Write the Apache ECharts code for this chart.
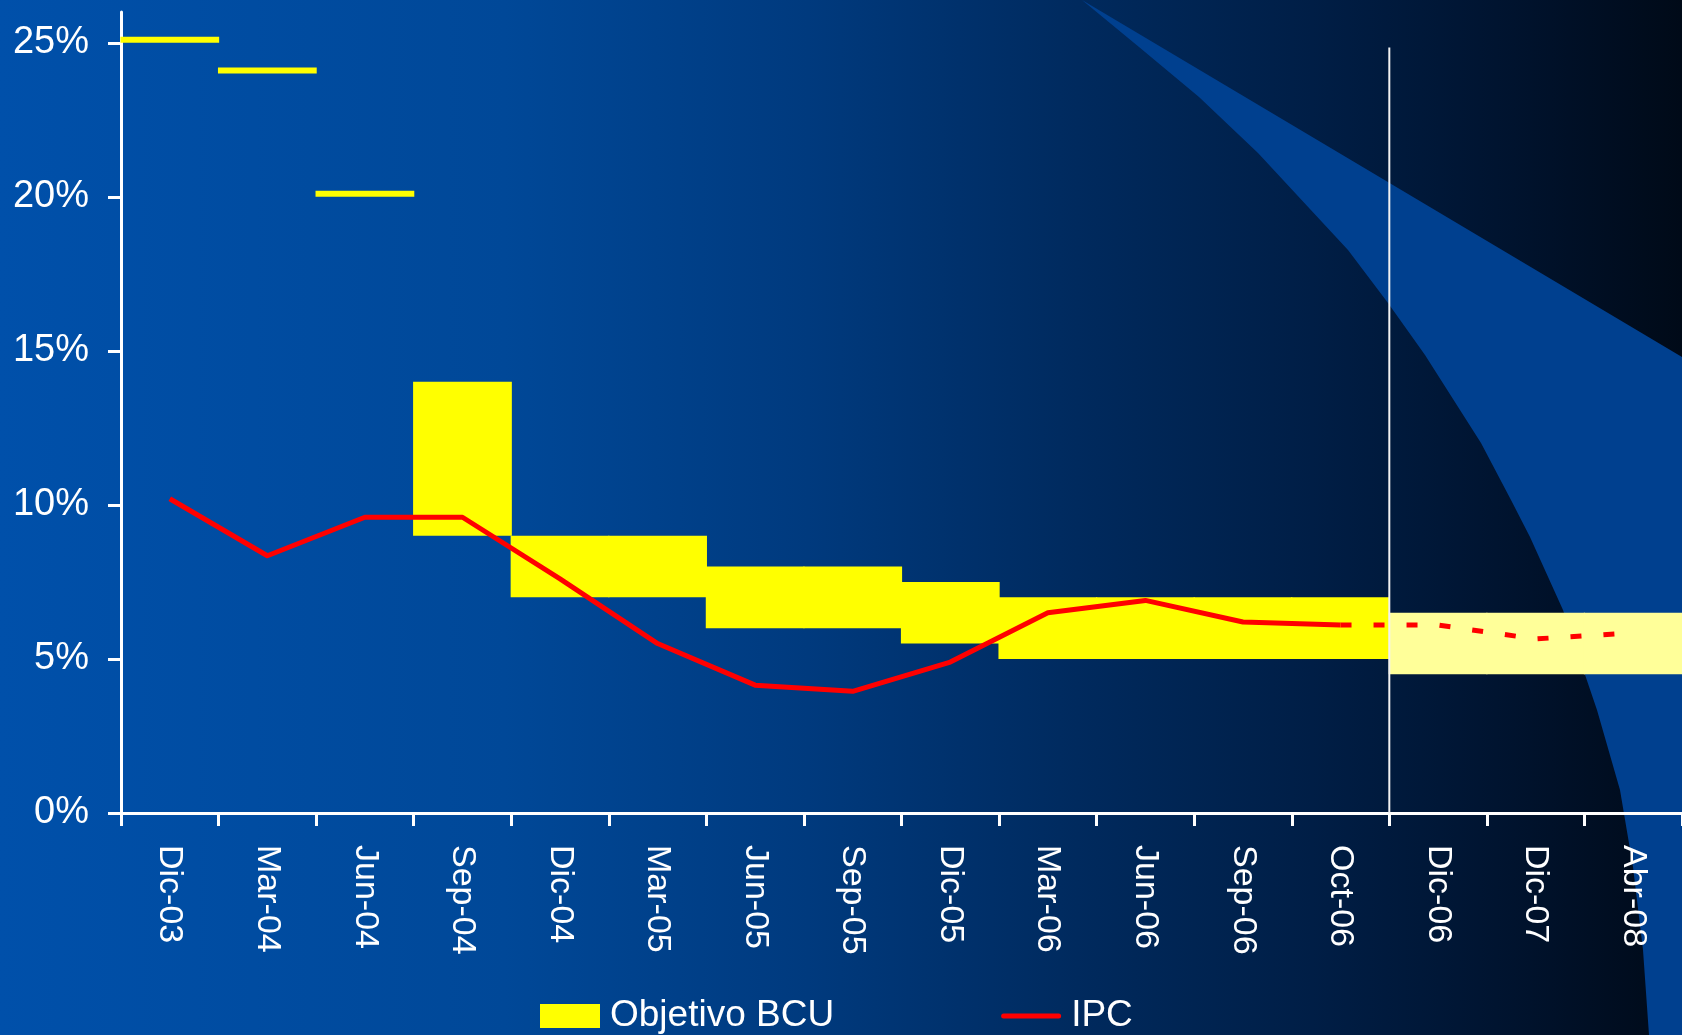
<!DOCTYPE html>
<html><head><meta charset="utf-8">
<script src="https://cdn.jsdelivr.net/npm/echarts@6/dist/echarts.min.js"></script>
<style>
html,body{margin:0;padding:0;width:1682px;height:1035px;overflow:hidden;
background:linear-gradient(to right,#0050AA 0%,#004898 30%,#003A7E 48%,#002A5E 64%,#001E46 78%,#00132E 90%,#000A18 100%);}
#c{width:1682px;height:1035px;}
</style>
</head><body><div id="c"></div>
<script>
// ---- data ----
const categories = ['Dic-03','Mar-04','Jun-04','Sep-04','Dic-04','Mar-05','Jun-05','Sep-05','Dic-05','Mar-06','Jun-06','Sep-06','Oct-06','Dic-06','Dic-07','Abr-08'];
const targetLow  = [25, 24, 20, 9, 7, 7, 6, 6, 5.5, 5, 5, 5, 5, 4.5, 4.5, 4.5];
const targetHigh = [25.2, 24.2, 20.2, 14, 9, 9, 8, 8, 7.5, 7, 7, 7, 7, 6.5, 6.5, 6.5];
const forecastStart = 13;
const ipcActual    = [10.2, 8.35, 9.6, 9.6, 7.6, 5.5, 4.15, 3.95, 4.9, 6.5, 6.9, 6.2, 6.1, null, null, null];
const ipcProjected = [null, null, null, null, null, null, null, null, null, null, null, null, 6.1, 6.1, 5.65, 5.85];
const yTicks = [0, 5, 10, 15, 20, 25];
const dividerX = [13, 13];
const dividerY = [0, 24.85];

// ---- chart ----
const FONT = '"Liberation Sans", Arial, sans-serif';
const chart = echarts.init(document.getElementById('c'), null, {renderer: 'canvas'});
const barColor = i => (i >= forecastStart ? '#FFFF99' : '#FFFF00');
const lineIcon = 'path://M0,0h0.05v0.05h-0.05z M2.5,9.5h55a2.5,2.5 0 0 1 0,5h-55a2.5,2.5 0 0 1 0,-5z M59.95,23.95h0.05v0.05h-0.05z';

chart.setOption({
  animation: false,
  backgroundColor: 'transparent',
  textStyle: {fontFamily: FONT},
  graphic: [{
    type: 'polygon', z: -10, silent: true,
    shape: {points: [[1082,0],[1682,357],[1682,1035],[1649,1035],[1643,950],[1633,867],[1620,790],[1597,710],[1563,610],[1530,537],[1511,500],[1481,443],[1425,355],[1388,303],[1348,250],[1258,153],[1199,97],[1139,47]]},
    style: {fill: '#00408F'}
  }],
  grid: {left: 121, right: 0, top: 12, bottom: 222, containLabel: false},
  legend: {
    left: 540, top: 996, padding: 0, itemGap: 167,
    itemWidth: 60, itemHeight: 24,
    textStyle: {color: '#ffffff', fontSize: 37, fontFamily: FONT, lineHeight: 40, padding: [0,0,0,5]},
    data: [{name: 'Objetivo BCU', icon: 'rect'}, {name: 'IPC', icon: lineIcon}]
  },
  xAxis: [{
    type: 'category', data: categories, boundaryGap: true,
    axisLine: {onZero: false, lineStyle: {color: '#ffffff', width: 3}},
    axisTick: {show: true, interval: 0, length: 13, lineStyle: {color: '#ffffff', width: 3}},
    axisLabel: {interval: 0, rotate: -90, margin: 32, color: '#ffffff', fontSize: 34, fontFamily: FONT},
    splitLine: {show: false}
  }, {
    type: 'value', min: 0, max: categories.length, show: false
  }],
  yAxis: {
    type: 'value', min: 0, max: 26,
    axisLine: {show: true, onZero: false, lineStyle: {color: '#ffffff', width: 3}},
    axisTick: {show: true, length: 13, customValues: yTicks, lineStyle: {color: '#ffffff', width: 3}},
    axisLabel: {customValues: yTicks, formatter: '{value}%', margin: 32, color: '#ffffff', fontSize: 38, fontFamily: FONT},
    splitLine: {show: false}
  },
  series: [{
    name: 'Objetivo BCU', type: 'custom', z: 1,
    itemStyle: {color: '#FFFF00'},
    encode: {x: 0, y: [1, 2]},
    data: categories.map((c, i) => [i, targetLow[i], targetHigh[i]]),
    renderItem: function (params, api) {
      const i = api.value(0);
      const p0 = api.coord([i, api.value(1)]);
      const p1 = api.coord([i, api.value(2)]);
      const w = api.size([1, 0])[0];
      return {
        type: 'rect',
        shape: {x: p0[0] - w / 2 - 0.6, y: p1[1], width: w + 1.2, height: p0[1] - p1[1]},
        style: {fill: barColor(i)}
      };
    }
  }, {
    name: 'divider', type: 'line', xAxisIndex: 1, symbol: 'none', silent: true, z: 3,
    data: dividerX.map((x, i) => [x, dividerY[i]]),
    lineStyle: {color: '#F2F2F2', width: 2}
  }, {
    name: 'IPC', type: 'line', data: ipcActual, symbol: 'none', z: 4,
    lineStyle: {color: '#FF0000', width: 5, join: 'round'},
    itemStyle: {color: '#FF0000'}
  }, {
    name: 'IPC proyectado', type: 'line', data: ipcProjected, symbol: 'none', z: 4,
    lineStyle: {color: '#FF0000', width: 5, type: [11, 22], cap: 'butt'}
  }]
});
</script>
</body></html>
